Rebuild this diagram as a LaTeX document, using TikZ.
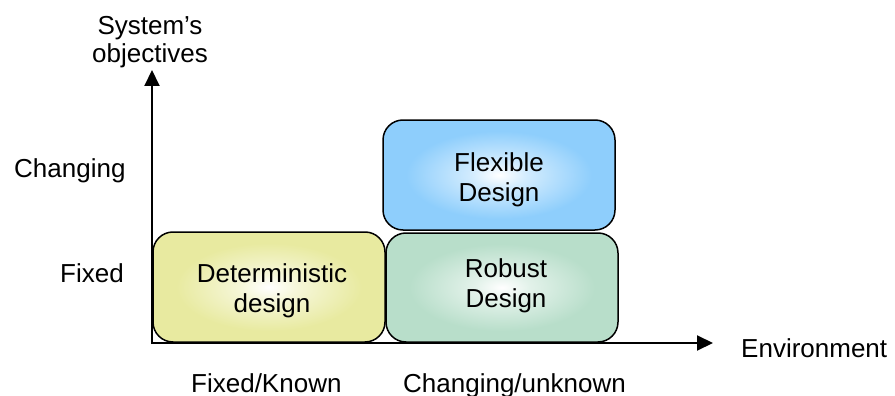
\documentclass[tikz,border=0pt]{standalone}
\usepackage{fontspec}
\setmainfont{Liberation Sans}
\usetikzlibrary{arrows.meta}
\definecolor{detcol}{RGB}{232,234,160}
\definecolor{flexcol}{RGB}{142,206,252}
\definecolor{robcol}{RGB}{184,222,202}
\pgfdeclareradialshading{detglow}{\pgfpoint{0bp}{0bp}}{color(0bp)=(white); color(6bp)=(detcol!40!white); color(20bp)=(detcol); color(50bp)=(detcol)}
\pgfdeclareradialshading{flexglow}{\pgfpoint{0bp}{0bp}}{color(0bp)=(white); color(6bp)=(flexcol!40!white); color(20bp)=(flexcol); color(50bp)=(flexcol)}
\pgfdeclareradialshading{robglow}{\pgfpoint{0bp}{0bp}}{color(0bp)=(white); color(6bp)=(robcol!40!white); color(20bp)=(robcol); color(50bp)=(robcol)}
\tikzset{
  lbl/.style={inner sep=0pt, font=\fontsize{26}{28}\selectfont},
  boxtxt/.style={inner sep=0pt, font=\fontsize{26}{30}\selectfont, align=center},
  region/.style={draw=black, line width=1.5pt, rounded corners=20pt, inner sep=0pt},
  axis/.style={line width=2pt, -{Triangle[length=16pt,width=15pt]}}
}
\begin{document}
\begin{tikzpicture}[x=1pt,y=-1pt]
\useasboundingbox (0,0) rectangle (895,396);
% regions
\path[region, shading=detglow] (153,232) rectangle (385,342);
\path[region, shading=flexglow] (383,120) rectangle (615,230);
\path[region, shading=robglow] (386,233) rectangle (618,342);
\node[boxtxt] (det) at (272,291) {Deterministic\\design};
\node[boxtxt] (flex) at (499,180) {Flexible\\Design};
\node[boxtxt] (rob) at (506,286) {Robust\\Design};
% axes
\coordinate (o) at (152,343);
\coordinate (ytip) at (152,70);
\coordinate (xtip) at (713,343);
\draw[axis] (152,344) -- (ytip);
\draw[axis] (151,343) -- (xtip);
% labels
\node[lbl, align=center] (ylab) at (150,42) {System’s\\objectives};
\node[lbl, anchor=base west] (chg) at (14,177) {Changing};
\node[lbl, anchor=base west] (fix) at (60,282) {Fixed};
\node[lbl, anchor=base west] (env) at (741,357) {Environment};
\node[lbl, anchor=base west] (fk) at (191,392) {Fixed/Known};
\node[lbl, anchor=base west] (cu) at (403,392) {Changing/unknown};
\end{tikzpicture}
\end{document}
